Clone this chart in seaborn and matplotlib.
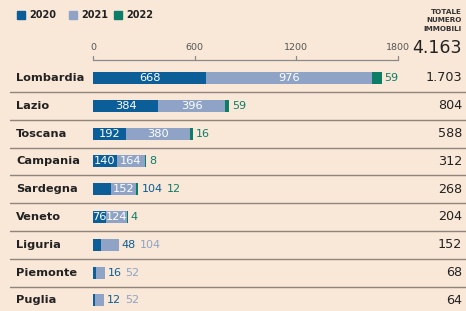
import matplotlib
matplotlib.use("Agg")
import matplotlib.pyplot as plt
import seaborn as sns
import pandas as pd
import numpy as np

regions = ["Lombardia", "Lazio", "Toscana", "Campania", "Sardegna",
           "Veneto", "Liguria", "Piemonte", "Puglia"]
v2020 = [668, 384, 192, 140, 104, 76, 48, 16, 12]
v2021 = [976, 396, 380, 164, 152, 124, 104, 52, 52]
v2022 = [59, 24, 16, 8, 12, 4, 0, 0, 0]
lab2022 = ["59", "59", "16", "8", "12", "4", "", "", ""]
in2020 = [True, True, True, True, False, True, False, False, False]
in2021 = [True, True, True, True, True, True, False, False, False]
totals = ["1.703", "804", "588", "312", "268", "204", "152", "68", "64"]
grand_total = "4.163"
ticks = [0, 600, 1200, 1800]

C20 = "#0b5e97"
C21 = "#8fa3c6"
C22 = "#0d7d68"
BG = "#f9e7d7"

W, H = 466, 311
sns.set_theme(style="white")
plt.rcParams["font.family"] = ["DejaVu Sans"]
fig = plt.figure(figsize=(W / 100, H / 100), dpi=100, facecolor=BG)

x0, x1 = 93, 398
ax = fig.add_axes([x0 / W, 0, (x1 - x0) / W, 1 - 60 / H])
ax.set_facecolor("none")

df = pd.DataFrame({"region": regions, "a": v2020, "b": v2021, "c": v2022})
df["ab"] = df["a"] + df["b"]
df["abc"] = df["ab"] + df["c"]
bw = 12 / 27.8
sns.barplot(data=df, y="region", x="abc", color=C22, saturation=1, width=bw,
            orient="h", ax=ax, linewidth=0)
sns.barplot(data=df, y="region", x="ab", color=C21, saturation=1, width=bw,
            orient="h", ax=ax, linewidth=0)
sns.barplot(data=df, y="region", x="a", color=C20, saturation=1, width=bw,
            orient="h", ax=ax, linewidth=0)

ymin = (60 - 78) / 27.8
ymax = (311 - 78) / 27.8
ax.set_xlim(0, 1800)
ax.set_ylim(ymax, ymin)
ax.set_xlabel("")
ax.set_ylabel("")
ax.set_xticks([])
ax.set_yticks([])
for s in ax.spines.values():
    s.set_visible(False)

trans = ax.get_xaxis_transform()
ax.plot([0, 1800], [1, 1], transform=trans, color="#8a8a8a", lw=0.9, clip_on=False)
for t in ticks:
    ax.plot([t, t], [1, 1 + 4 / (H - 60)], transform=trans, color="#8a8a8a",
            lw=0.9, clip_on=False)
    ax.text(t, 1 + 13 / (H - 60), str(t), transform=trans, ha="center",
            va="center", fontsize=6.8, color="#555555")

def ypx(i):
    return 78 + 27.8 * i

for i in range(len(regions) - 1):
    yy = 1 - (ypx(i) + 13.9) / H
    fig.add_artist(plt.Line2D([10 / W, 1], [yy, yy], color="#8e857c", lw=1.0))

for i, r in enumerate(regions):
    yy = 1 - ypx(i) / H
    fig.text(16 / W, yy, r, fontsize=8.2, fontweight="bold", color="#222222",
             va="center", ha="left")
    fig.text(462 / W, yy, totals[i], fontsize=9.2, color="#222222",
             va="center", ha="right")

for i in range(len(regions)):
    if in2020[i]:
        ax.text(v2020[i] / 2, i, str(v2020[i]), ha="center", va="center",
                color="white", fontsize=8.2)
    if in2021[i]:
        ax.text(v2020[i] + v2021[i] / 2, i, str(v2021[i]), ha="center",
                va="center", color="white", fontsize=8.2)

fig.canvas.draw()
renderer = fig.canvas.get_renderer()
px_per_unit = (x1 - x0) / 1800
for i in range(len(regions)):
    outs = []
    if not in2020[i]:
        outs.append((str(v2020[i]), C20))
    if not in2021[i]:
        outs.append((str(v2021[i]), C21))
    if lab2022[i]:
        outs.append((lab2022[i], C22))
    xpos = v2020[i] + v2021[i] + v2022[i] + 3 / px_per_unit
    for txt, col in outs:
        t = ax.text(xpos, i, txt, ha="left", va="center", color=col,
                    fontsize=8, clip_on=False)
        wpx = t.get_window_extent(renderer).width
        xpos += (wpx + 4) / px_per_unit

for k, (lab, col) in enumerate(zip(["2020", "2021", "2022"], [C20, C21, C22])):
    lx = [17, 69, 114][k]
    fig.add_artist(plt.Rectangle((lx / W, 1 - 19 / H), 8 / W, 8 / H,
                                 color=col, transform=fig.transFigure))
    fig.text((lx + 12) / W, 1 - 15 / H, lab, fontsize=7, fontweight="bold",
             color="#222222", va="center", ha="left")

for j, line in enumerate(["TOTALE", "NUMERO", "IMMOBILI"]):
    fig.text(462 / W, 1 - (12 + 8.5 * j) / H, line, fontsize=5.2,
             fontweight="bold", color="#333333", va="center", ha="right")
fig.text(462 / W, 1 - 48 / H, grand_total, fontsize=12.5, color="#222222",
         va="center", ha="right")

fig.savefig("out.png", dpi=100, facecolor=BG)
